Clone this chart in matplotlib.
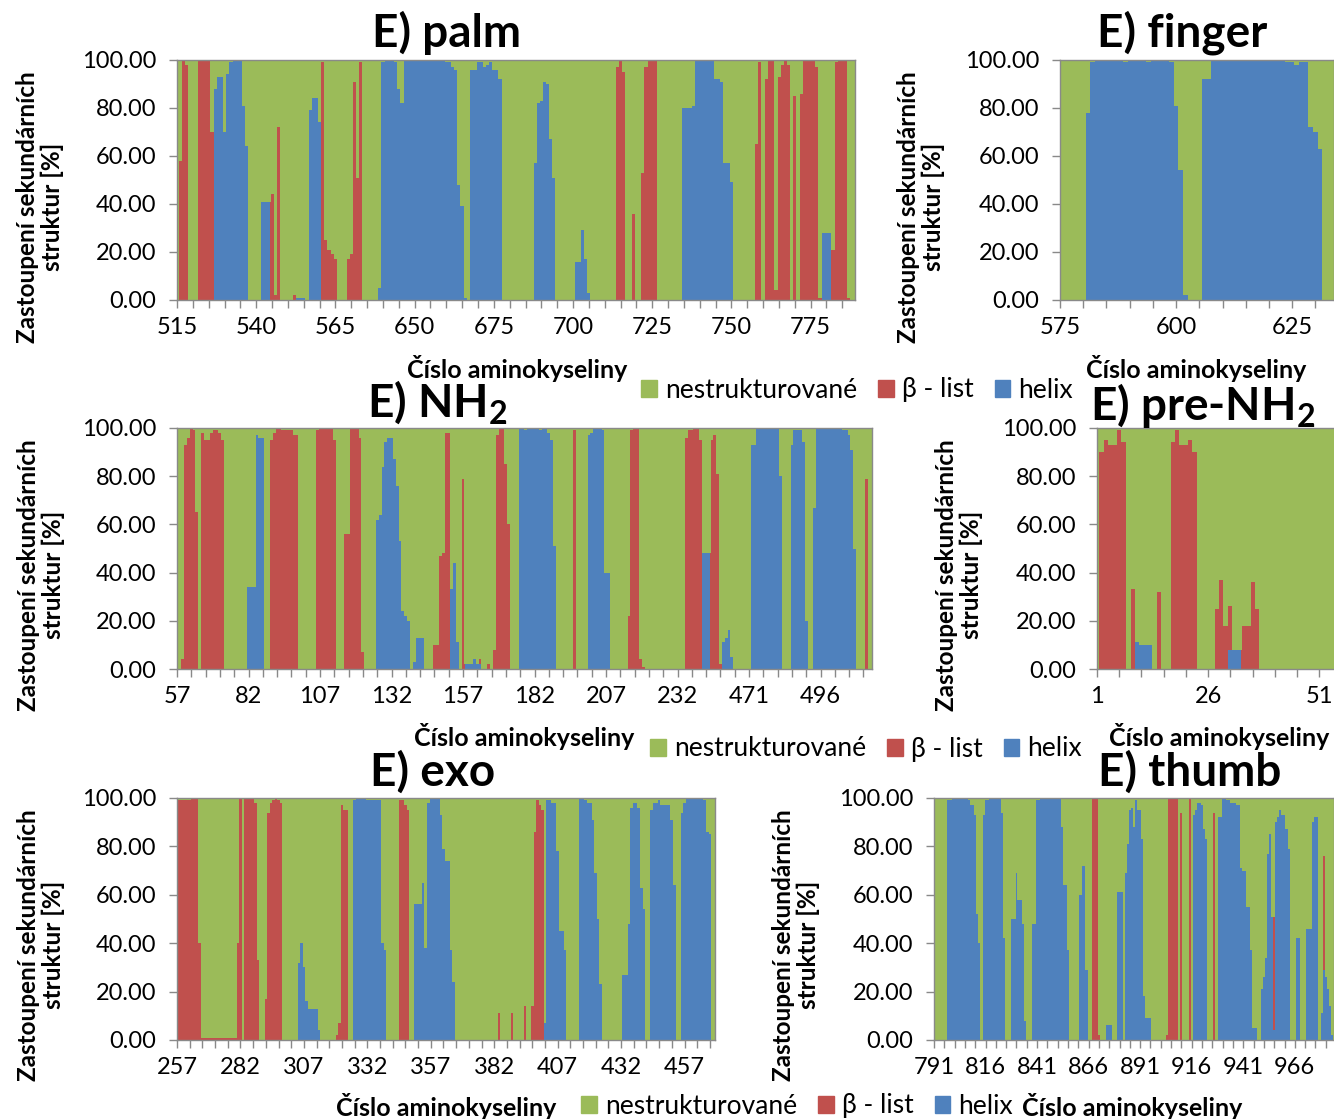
import numpy as np
import matplotlib
matplotlib.use('Agg')  # no display in the sandbox
import matplotlib.pyplot as plt
from matplotlib.patches import Patch

W, H = 1334, 1119
GREEN = '#9BBB59'
RED = '#C0504D'
BLUE = '#4F81BD'
GRAY = '#898989'

plt.rcParams['font.family'] = ['Lato', 'DejaVu Sans']
plt.rcParams['mathtext.fontset'] = 'custom'
plt.rcParams['mathtext.bf'] = 'Lato:bold'
plt.rcParams['mathtext.rm'] = 'Lato'

# residue numbers on the category axis (a gap in numbering where domains are cut)
palm_res = list(range(515, 577)) + list(range(637, 790))
finger_res = list(range(575, 635))
nh2_res = list(range(57, 252)) + list(range(466, 515))
pre_res = list(range(1, 56))
exo_res = list(range(257, 470))
thumb_res = list(range(791, 986))

# % helix and % beta sheet per residue (rest = unstructured)
palm_helix = [
    0, 0, 0, 0, 0, 0, 0, 0, 0, 0,
    0, 0, 88, 93, 93, 70, 94, 99, 100, 100,
    100, 81, 64, 0, 0, 0, 0, 41, 41, 41,
    0, 0, 0, 0, 0, 0, 0, 0, 1, 1,
    1, 0, 79, 84, 84, 74, 0, 0, 0, 0,
    0, 0, 0, 0, 0, 0, 0, 0, 0, 0,
    0, 0, 0, 0, 5, 99, 100, 100, 100, 99,
    88, 82, 100, 100, 100, 100, 100, 100, 100, 100,
    100, 100, 100, 100, 100, 99, 99, 97, 96, 48,
    39, 1, 0, 96, 96, 99, 99, 97, 98, 99,
    96, 96, 92, 0, 0, 0, 0, 0, 0, 0,
    0, 0, 0, 57, 82, 83, 91, 90, 67, 51,
    0, 0, 0, 0, 0, 0, 16, 16, 29, 17,
    3, 0, 0, 0, 0, 0, 0, 0, 0, 0,
    0, 0, 0, 0, 0, 0, 0, 0, 0, 0,
    0, 0, 0, 0, 0, 0, 0, 0, 0, 0,
    80, 80, 80, 81, 100, 100, 100, 100, 100, 100,
    92, 92, 91, 57, 57, 49, 0, 0, 0, 0,
    0, 0, 0, 0, 0, 0, 0, 0, 0, 0,
    0, 0, 0, 0, 0, 0, 0, 0, 0, 0,
    0, 0, 0, 0, 28, 28, 28, 0, 0, 0,
    0, 0, 0, 0, 0,
]
palm_sheet = [
    0, 58, 100, 98, 0, 0, 0, 100, 100, 100,
    100, 70, 0, 0, 0, 0, 0, 0, 0, 0,
    0, 0, 0, 0, 0, 0, 0, 0, 0, 0,
    44, 2, 72, 0, 0, 0, 0, 2, 0, 0,
    0, 0, 0, 0, 0, 0, 99, 25, 21, 19,
    17, 0, 0, 0, 17, 19, 91, 51, 99, 0,
    0, 0, 0, 0, 0, 0, 0, 0, 0, 0,
    0, 0, 0, 0, 0, 0, 0, 0, 0, 0,
    0, 0, 0, 0, 0, 0, 0, 0, 0, 0,
    0, 0, 0, 0, 0, 0, 0, 0, 0, 0,
    0, 0, 0, 0, 0, 0, 0, 0, 0, 0,
    0, 0, 0, 0, 0, 0, 0, 0, 0, 0,
    0, 0, 0, 0, 0, 0, 0, 0, 0, 0,
    0, 0, 0, 0, 0, 0, 0, 0, 0, 97,
    100, 95, 0, 0, 36, 0, 0, 53, 97, 100,
    100, 100, 0, 0, 0, 0, 0, 0, 0, 0,
    0, 0, 0, 0, 0, 0, 0, 0, 0, 0,
    0, 0, 0, 0, 0, 0, 0, 0, 0, 0,
    0, 0, 0, 65, 99, 0, 92, 100, 100, 4,
    93, 98, 100, 98, 0, 85, 0, 86, 100, 100,
    100, 100, 97, 1, 0, 0, 0, 21, 99, 100,
    100, 100, 1, 0, 0,
]

finger_helix = [
    0, 0, 0, 0, 0, 0, 78, 99, 100, 100,
    100, 100, 100, 100, 99, 100, 100, 100, 100, 99,
    100, 100, 100, 100, 99, 81, 54, 2, 0, 0,
    0, 92, 92, 100, 100, 100, 100, 100, 100, 100,
    100, 100, 100, 100, 100, 100, 100, 100, 100, 99,
    99, 98, 99, 99, 72, 70, 63, 0, 0, 0,
]
finger_sheet = [
    0, 0, 0, 0, 0, 0, 0, 0, 0, 0,
    0, 0, 0, 0, 0, 0, 0, 0, 0, 0,
    0, 0, 0, 0, 0, 0, 0, 0, 0, 0,
    0, 0, 0, 0, 0, 0, 0, 0, 0, 0,
    0, 0, 0, 0, 0, 0, 0, 0, 0, 0,
    0, 0, 0, 0, 0, 0, 0, 0, 0, 0,
]

nh2_helix = [
    0, 0, 0, 0, 0, 0, 0, 0, 0, 0,
    0, 0, 0, 0, 0, 0, 0, 0, 0, 0,
    0, 0, 0, 0, 0, 34, 34, 34, 97, 96,
    96, 0, 0, 0, 0, 0, 0, 0, 0, 0,
    0, 0, 0, 0, 0, 0, 0, 0, 0, 0,
    0, 0, 0, 0, 0, 0, 0, 0, 0, 0,
    0, 0, 0, 0, 0, 0, 0, 0, 0, 0,
    62, 64, 84, 94, 96, 96, 87, 76, 53, 24,
    22, 20, 0, 3, 13, 13, 13, 0, 0, 0,
    0, 0, 0, 0, 0, 0, 33, 44, 11, 0,
    0, 2, 2, 2, 4, 2, 2, 0, 0, 0,
    0, 0, 0, 0, 0, 0, 0, 0, 0, 0,
    100, 100, 99, 100, 100, 100, 100, 99, 100, 100,
    98, 95, 51, 0, 0, 0, 0, 0, 0, 0,
    0, 0, 0, 0, 97, 98, 100, 100, 100, 99,
    40, 40, 0, 0, 0, 0, 0, 0, 0, 0,
    0, 0, 0, 0, 0, 0, 0, 0, 0, 0,
    0, 0, 0, 0, 0, 0, 0, 0, 0, 0,
    0, 0, 0, 0, 48, 48, 48, 0, 0, 0,
    0, 11, 13, 16, 5, 0, 0, 0, 0, 0,
    0, 93, 93, 100, 100, 100, 100, 100, 100, 100,
    100, 80, 0, 0, 0, 93, 99, 99, 99, 94,
    20, 0, 0, 67, 100, 100, 100, 100, 100, 100,
    100, 100, 100, 99, 99, 97, 91, 50, 0, 0,
    0, 0, 0, 0,
]
nh2_sheet = [
    0, 0, 4, 93, 96, 100, 99, 65, 0, 98,
    95, 95, 98, 99, 99, 98, 95, 0, 0, 0,
    0, 0, 0, 0, 0, 0, 0, 0, 0, 0,
    0, 0, 0, 95, 98, 100, 100, 99, 99, 99,
    99, 97, 97, 0, 0, 0, 0, 0, 0, 99,
    100, 100, 100, 100, 100, 95, 0, 0, 0, 56,
    56, 100, 100, 100, 96, 7, 0, 0, 0, 0,
    0, 0, 0, 0, 0, 0, 0, 0, 0, 0,
    0, 0, 0, 0, 0, 0, 0, 0, 0, 0,
    10, 10, 47, 48, 98, 98, 0, 0, 0, 0,
    79, 0, 0, 0, 0, 0, 2, 0, 0, 2,
    0, 8, 97, 100, 100, 85, 60, 0, 0, 0,
    0, 0, 0, 0, 0, 0, 0, 0, 0, 0,
    0, 0, 0, 0, 0, 0, 0, 0, 0, 99,
    0, 0, 0, 0, 0, 0, 0, 0, 0, 0,
    0, 0, 0, 0, 0, 0, 0, 0, 22, 99,
    100, 100, 4, 1, 0, 0, 0, 0, 0, 0,
    0, 0, 0, 0, 0, 0, 0, 0, 96, 99,
    99, 100, 100, 95, 0, 0, 0, 95, 97, 81,
    2, 0, 0, 0, 0, 0, 0, 0, 0, 0,
    0, 0, 0, 0, 0, 0, 0, 0, 0, 0,
    0, 0, 0, 0, 0, 0, 0, 0, 0, 0,
    0, 0, 0, 0, 0, 0, 0, 0, 0, 0,
    0, 0, 0, 0, 0, 0, 0, 0, 0, 0,
    0, 79, 0, 0,
]

pre_helix = [
    0, 0, 0, 0, 0, 0, 0, 0, 0, 11,
    10, 10, 10, 0, 0, 0, 0, 0, 0, 0,
    0, 0, 0, 0, 0, 0, 0, 0, 0, 0,
    8, 8, 8, 0, 0, 0, 0, 0, 0, 0,
    0, 0, 0, 0, 0, 0, 0, 0, 0, 0,
    0, 0, 0, 0, 0,
]
pre_sheet = [
    0, 90, 95, 93, 93, 99, 94, 0, 33, 0,
    0, 0, 0, 0, 32, 0, 0, 94, 99, 93,
    93, 95, 90, 0, 0, 0, 0, 25, 37, 18,
    18, 0, 0, 18, 18, 36, 25, 0, 0, 0,
    0, 0, 0, 0, 0, 0, 0, 0, 0, 0,
    0, 0, 0, 0, 0,
]

exo_helix = [
    0, 0, 0, 0, 0, 0, 0, 0, 0, 0,
    0, 0, 0, 0, 0, 0, 0, 0, 0, 0,
    0, 0, 0, 0, 0, 0, 0, 0, 0, 0,
    0, 0, 0, 0, 0, 0, 0, 0, 0, 0,
    0, 0, 0, 0, 0, 0, 0, 0, 32, 40,
    30, 16, 13, 13, 13, 13, 4, 0, 0, 0,
    0, 0, 0, 0, 0, 0, 0, 0, 0, 0,
    99, 100, 100, 100, 100, 99, 99, 99, 99, 99,
    99, 40, 37, 0, 0, 0, 0, 0, 0, 0,
    0, 0, 0, 0, 56, 56, 56, 65, 38, 98,
    100, 100, 100, 100, 93, 79, 74, 74, 37, 24,
    0, 0, 0, 0, 0, 0, 0, 0, 0, 0,
    0, 0, 0, 0, 0, 0, 0, 0, 0, 0,
    0, 0, 0, 0, 0, 0, 0, 0, 0, 0,
    0, 0, 0, 0, 0, 7, 99, 99, 98, 98,
    78, 45, 45, 37, 0, 0, 0, 0, 0, 100,
    100, 99, 98, 98, 91, 69, 50, 23, 0, 0,
    0, 0, 0, 0, 0, 0, 27, 27, 48, 96,
    98, 98, 96, 63, 54, 0, 0, 95, 98, 98,
    99, 97, 97, 97, 97, 91, 64, 0, 0, 94,
    98, 100, 100, 100, 100, 100, 100, 100, 99, 86,
    85, 0, 0,
]
exo_sheet = [
    0, 99, 99, 99, 99, 99, 100, 100, 100, 40,
    1, 1, 1, 1, 1, 1, 1, 1, 1, 1,
    1, 1, 1, 1, 40, 100, 0, 100, 100, 100,
    100, 98, 33, 0, 0, 17, 94, 98, 99, 100,
    99, 98, 0, 0, 0, 0, 0, 0, 0, 0,
    0, 0, 0, 0, 0, 0, 0, 0, 0, 0,
    0, 0, 0, 2, 7, 97, 95, 95, 0, 0,
    0, 0, 0, 0, 0, 0, 0, 0, 0, 0,
    0, 0, 0, 0, 0, 0, 0, 0, 99, 99,
    97, 95, 0, 0, 0, 0, 0, 0, 0, 0,
    0, 0, 0, 0, 0, 0, 0, 0, 0, 0,
    0, 0, 0, 0, 0, 0, 0, 0, 0, 0,
    0, 0, 0, 0, 0, 0, 0, 11, 0, 0,
    0, 0, 11, 0, 0, 0, 0, 14, 0, 0,
    14, 86, 99, 97, 95, 0, 0, 0, 0, 0,
    0, 0, 0, 0, 0, 0, 0, 0, 0, 0,
    0, 0, 0, 0, 0, 0, 0, 0, 0, 0,
    0, 0, 0, 0, 0, 0, 0, 0, 0, 0,
    0, 0, 0, 0, 0, 0, 0, 0, 0, 0,
    0, 0, 0, 0, 0, 0, 0, 0, 0, 0,
    0, 0, 0, 0, 0, 0, 0, 0, 0, 0,
    0, 0, 0,
]

thumb_helix = [
    0, 0, 0, 0, 0, 0, 0, 99, 99, 100,
    100, 100, 100, 100, 100, 100, 100, 99, 97, 97,
    93, 52, 40, 0, 93, 99, 99, 100, 100, 100,
    100, 100, 100, 94, 42, 0, 0, 0, 50, 50,
    69, 58, 58, 48, 8, 0, 0, 0, 48, 48,
    99, 99, 100, 100, 100, 100, 100, 100, 100, 100,
    100, 100, 88, 64, 64, 37, 0, 0, 0, 0,
    0, 60, 72, 72, 29, 0, 0, 0, 0, 0,
    0, 0, 0, 0, 6, 6, 6, 0, 0, 61,
    61, 61, 0, 69, 81, 95, 96, 88, 99, 95,
    95, 83, 18, 9, 9, 9, 0, 0, 0, 0,
    0, 0, 0, 0, 0, 0, 0, 0, 0, 0,
    0, 0, 0, 0, 0, 0, 93, 95, 98, 98,
    97, 87, 83, 0, 0, 0, 0, 0, 92, 92,
    100, 100, 99, 99, 98, 98, 98, 97, 97, 71,
    70, 70, 55, 55, 37, 5, 5, 0, 0, 21,
    26, 34, 77, 85, 51, 4, 90, 92, 95, 93,
    93, 87, 79, 0, 0, 0, 42, 42, 0, 0,
    0, 46, 46, 46, 90, 92, 92, 0, 11, 29,
    26, 21, 14, 2, 0,
]
thumb_sheet = [
    0, 0, 0, 0, 0, 0, 0, 0, 0, 0,
    0, 0, 0, 0, 0, 0, 0, 0, 0, 0,
    0, 0, 0, 0, 0, 0, 0, 0, 0, 0,
    0, 0, 0, 0, 0, 0, 0, 0, 0, 0,
    0, 0, 0, 0, 0, 0, 0, 0, 0, 0,
    0, 0, 0, 0, 0, 0, 0, 0, 0, 0,
    0, 0, 0, 0, 0, 0, 0, 0, 0, 0,
    0, 0, 0, 0, 0, 0, 0, 100, 100, 100,
    2, 0, 0, 0, 0, 0, 0, 0, 0, 0,
    0, 0, 0, 0, 0, 0, 0, 0, 0, 0,
    0, 0, 0, 0, 0, 0, 0, 0, 0, 0,
    0, 0, 0, 2, 100, 100, 100, 100, 100, 0,
    94, 0, 0, 0, 100, 0, 0, 0, 0, 0,
    0, 0, 0, 0, 0, 0, 94, 0, 0, 0,
    0, 0, 0, 0, 0, 0, 0, 0, 0, 0,
    0, 0, 0, 0, 0, 0, 0, 0, 0, 0,
    0, 0, 0, 0, 0, 47, 0, 0, 0, 0,
    0, 0, 0, 0, 0, 0, 0, 0, 0, 0,
    0, 0, 0, 0, 0, 0, 0, 0, 0, 47,
    0, 0, 0, 0, 0,
]

legend_labels = ['nestrukturované', 'β - list', 'helix']
ylabel = 'Zastoupení sekundárních\nstruktur [%]'
xlabel = 'Číslo aminokyseliny'

fig = plt.figure(figsize=(W / 100, H / 100), dpi=100)


def fpos(x, y):
    # pixel position (from top-left) -> figure fraction
    return x / W, 1 - y / H


def panel(box, res, helix, sheet, title, title_xy, ylab_xy, xlab_xy):
    x0, y0, x1, y1 = box
    ax = fig.add_axes([x0 / W, 1 - y1 / H, (x1 - x0) / W, (y1 - y0) / H])
    ax.set_facecolor(GREEN)
    helix = np.array(helix, dtype=float)
    sheet = np.array(sheet, dtype=float)
    coil = np.clip(100 - helix - sheet, 0, None)
    idx = np.arange(len(res))
    layers = [(helix, np.zeros_like(helix), BLUE),
              (sheet, helix, RED),
              (coil, helix + sheet, GREEN)]
    for vals, bottom, col in layers:
        m = vals > 0
        # slightly wider than 1 so neighbouring columns leave no pixel gap
        ax.bar(idx[m], vals[m], bottom=bottom[m], width=1.08,
               color=col, linewidth=0, antialiased=False)
    ax.set_xlim(0, len(res) - 1)
    ax.set_ylim(0, 100)
    ax.set_yticks(range(0, 101, 20))
    ax.set_yticklabels(['%.2f' % v for v in range(0, 101, 20)])
    ax.set_xticks(idx[::5])
    ax.set_xticklabels([str(res[i]) if i % 25 == 0 else '' for i in idx[::5]])
    for sp in ax.spines.values():
        sp.set_color(GRAY)
        sp.set_linewidth(1.0)
    ax.tick_params(axis='both', direction='out', length=6, width=1,
                   color=GRAY, labelsize=17)
    ax.tick_params(axis='y', pad=9)
    ax.tick_params(axis='x', pad=6)

    tx, ty = fpos(*title_xy)
    fig.text(tx, ty, title, fontsize=33, fontweight='bold', ha='center', va='center')
    lx, ly = fpos(*ylab_xy)
    fig.text(lx, ly, ylabel, fontsize=17.5, fontweight='bold', rotation=90,
             ha='center', va='center', multialignment='center', linespacing=1.1)
    xx, xy = fpos(*xlab_xy)
    fig.text(xx, xy, xlabel, fontsize=18, fontweight='bold', ha='center', va='center')
    return ax


panel((177, 60, 855, 300), palm_res, palm_helix, palm_sheet,
      'E) palm', (447, 33), (40, 207), (517, 369))
panel((1060, 60, 1334, 300), finger_res, finger_helix, finger_sheet,
      'E) finger', (1182, 33), (921, 207), (1196, 369))
panel((177, 428, 872, 669), nh2_res, nh2_helix, nh2_sheet,
      r'E) NH$_\mathbf{2}$', (437, 402), (41, 575), (524, 737))
panel((1097, 428, 1337, 669), pre_res, pre_helix, pre_sheet,
      r'E) pre-NH$_\mathbf{2}$', (1203, 405), (959, 575), (1219, 737))
panel((177, 798, 715, 1040), exo_res, exo_helix, exo_sheet,
      'E) exo', (433, 772), (41, 945), (446, 1106))
panel((934, 798, 1334, 1040), thumb_res, thumb_helix, thumb_sheet,
      'E) thumb', (1190, 772), (796, 945), (1132, 1106))

handles = [Patch(facecolor=c, edgecolor=c, label=l)
           for c, l in zip([GREEN, RED, BLUE], legend_labels)]
for cx, cy in [(857, 390), (866, 749), (797, 1106)]:
    fig.legend(handles=handles, loc='center', bbox_to_anchor=fpos(cx, cy),
               ncol=3, frameon=False, fontsize=19, handlelength=0.6,
               handleheight=0.6, handletextpad=0.3, columnspacing=0.8,
               borderpad=0, borderaxespad=0)

fig.savefig('out.png', dpi=100)
plt.close(fig)
